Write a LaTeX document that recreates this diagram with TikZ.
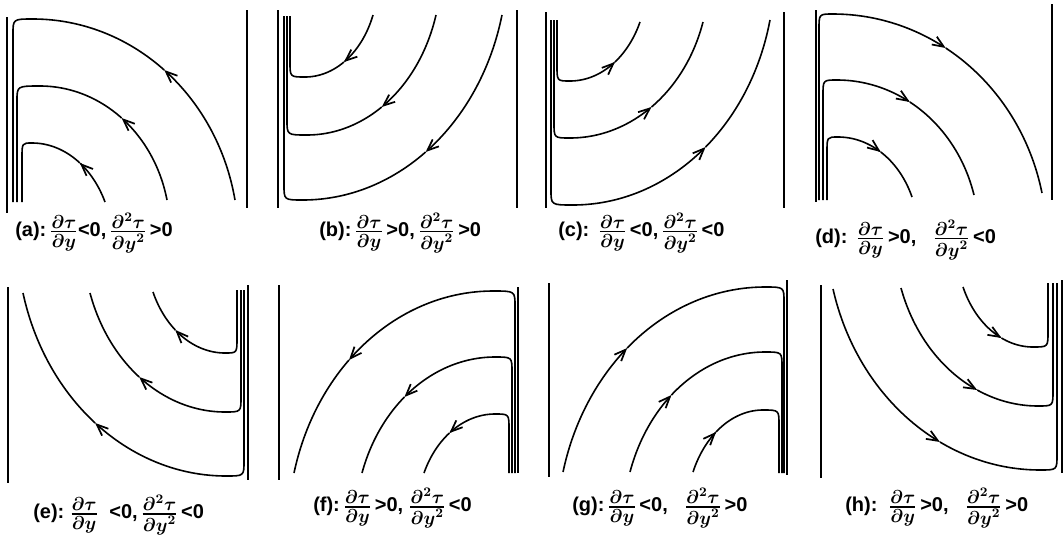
\RequirePackage{fix-cm}
\documentclass[tikz,border=0pt]{standalone}
\usepackage{amsmath}
\usepackage{fontspec}
\setmainfont{Liberation Sans}
\usetikzlibrary{arrows.meta}
\tikzset{
  wall/.style={line width=1.3pt},
  flow/.style={line width=1.2pt, line join=round},
  tipped/.style={flow, -{Straight Barb[length=8.5pt,width=7pt,line width=1.3pt]}},
  lab/.style={anchor=west, inner sep=0pt, font=\fontsize{15}{17}\selectfont\bfseries\boldmath}
}
\newcommand\fr[2]{\genfrac{}{}{1.3pt}{1}{\hbox{\fontsize{14}{14}\selectfont\boldmath$#1$}}{\hbox{\fontsize{14}{14}\selectfont\boldmath$#2$}}}
% \flowcurve(peak x,peak y)(free x,free y){centre y}{arrow y}{vertical x}{vertical end y}{1: arrow to peak, 0: arrow to free end}
\def\flowcurve(#1,#2)(#3,#4)#5#6#7#8#9{%
  \pgfmathsetmacro\fcRY{abs((#2)-(#5))}%
  \pgfmathsetmacro\fcSY{((#2)>(#5))?1:-1}%
  \pgfmathsetmacro\fcSX{((#3)>(#1))?1:-1}%
  \pgfmathsetmacro\fcTF{asin(abs((#4)-(#5))/\fcRY)}%
  \pgfmathsetmacro\fcRX{abs((#3)-(#1))/cos(\fcTF)}%
  \pgfmathsetmacro\fcTA{asin(min(1,abs((#6)-(#5))/\fcRY))}%
  \pgfmathsetmacro\fcK{(#2)-(\fcSY)*15}%
  \ifnum#9=1
    \draw[tipped] plot[domain=\fcTF:\fcTA, samples=40, variable=\t] ({(#1)+(\fcSX)*\fcRX*cos(\t)},{(#5)+(\fcSY)*\fcRY*sin(\t)});
    \draw[flow] plot[domain=\fcTA:90, samples=40, variable=\t] ({(#1)+(\fcSX)*\fcRX*cos(\t)},{(#5)+(\fcSY)*\fcRY*sin(\t)})
       .. controls (#7,#2) .. (#7,\fcK) -- (#7,#8);
  \else
    \draw[tipped] (#7,#8) -- (#7,\fcK) .. controls (#7,#2) .. (#1,#2)
       -- plot[domain=90:\fcTA, samples=40, variable=\t] ({(#1)+(\fcSX)*\fcRX*cos(\t)},{(#5)+(\fcSY)*\fcRY*sin(\t)});
    \draw[flow] plot[domain=\fcTA:\fcTF, samples=40, variable=\t] ({(#1)+(\fcSX)*\fcRX*cos(\t)},{(#5)+(\fcSY)*\fcRY*sin(\t)});
  \fi
}
\begin{document}
\begin{tikzpicture}[x=0.75pt,y=-0.75pt]
\useasboundingbox (0,0) rectangle (1064,540);
% walls
\draw[wall] (7,17) -- (7,213);      \draw[wall] (247,10) -- (247,208);
\draw[wall] (278,10) -- (278,208);  \draw[wall] (517,10) -- (517,208);
\draw[wall] (546,12) -- (546,208);  \draw[wall] (784,12) -- (784,208);
\draw[wall] (816,10) -- (816,202);  \draw[wall] (1052,4) -- (1052,200);
\draw[wall] (8,287) -- (8,483);     \draw[wall] (248,285) -- (248,480);
\draw[wall] (279,285) -- (279,480); \draw[wall] (518,287) -- (518,473);
\draw[wall] (549,283) -- (549,477); \draw[wall] (787,280) -- (787,475);
\draw[wall] (821,285) -- (821,478); \draw[wall] (1062,280) -- (1062,473);
% (a)
\flowcurve(33,19)(235,200){240}{70}{13}{202}{1}
\flowcurve(40,86)(167,200){230}{118}{17}{202}{1}
\flowcurve(32,143)(105,202){245}{163}{22}{202}{1}
% (b)
\flowcurve(303,200)(502,15){-40}{152}{284}{16}{1}
\flowcurve(307,135)(436,15){-30}{107}{287}{16}{1}
\flowcurve(305,77)(373,15){-20}{62}{290}{16}{1}
% (c)
\flowcurve(573,205)(770,20){-30}{147}{551}{20}{0}
\flowcurve(570,138)(703,22){-25}{107}{554}{20}{0}
\flowcurve(570,81)(640,22){-20}{62}{557}{20}{0}
% (d)
\flowcurve(833,14)(1042,193){240}{48}{819}{200}{0}
\flowcurve(837,80)(974,195){235}{102}{823}{200}{0}
\flowcurve(838,137)(912,197){235}{152}{827}{200}{0}
% (e)
\flowcurve(226,476)(23,293){235}{423}{244}{290}{0}
\flowcurve(225,412)(90,293){240}{377}{241}{290}{0}
\flowcurve(225,353)(153,292){250}{330}{237}{290}{0}
% (f)
\flowcurve(493,291)(294,473){530}{360}{515}{473}{0}
\flowcurve(495,357)(362,473){525}{397}{512}{473}{0}
\flowcurve(495,414)(424,473){515}{433}{509}{473}{0}
% (g)
\flowcurve(765,287)(563,472){530}{348}{784}{473}{1}
\flowcurve(765,352)(630,472){525}{395}{782}{473}{1}
\flowcurve(763,410)(693,472){515}{432}{779}{473}{1}
% (h)
\flowcurve(1040,470)(833,289){230}{442}{1057}{283}{1}
\flowcurve(1038,406)(901,288){235}{390}{1053}{283}{1}
\flowcurve(1033,347)(963,287){245}{338}{1048}{283}{1}
% labels
\node[lab] (la) at (15,233) {(a):\,$\fr{\partial\tau}{\partial y}$<0,\,$\fr{\partial^2\tau}{\partial y^2}$\,>0};
\node[lab] (lb) at (319,233) {(b):\,$\fr{\partial\tau}{\partial y}$\,>0,\,$\fr{\partial^2\tau}{\partial y^2}$\,>0};
\node[lab] (lc) at (558,233) {(c):\;\,$\fr{\partial\tau}{\partial y}$\,<0,\,$\fr{\partial^2\tau}{\partial y^2}$\,<0};
\node[lab] (ld) at (815,240) {(d):\;\,$\fr{\partial\tau}{\partial y}$\,>0,\;\;\;$\fr{\partial^2\tau}{\partial y^2}$\,<0};
\node[lab] (le) at (33,515) {(e):\;$\fr{\partial\tau}{\partial y}$\;\;<0,\,$\fr{\partial^2\tau}{\partial y^2}$\,<0};
\node[lab] (lf) at (313,508) {(f):\,$\fr{\partial\tau}{\partial y}$\,>0,\;$\fr{\partial^2\tau}{\partial y^2}$\,<0};
\node[lab] (lg) at (572,508) {(g):\,$\fr{\partial\tau}{\partial y}$\,<0,\;\;\;$\fr{\partial^2\tau}{\partial y^2}$\,>0};
\node[lab] (lh) at (845,508) {(h):\;\;$\fr{\partial\tau}{\partial y}$\,>0,\;\;\;$\fr{\partial^2\tau}{\partial y^2}$\,>0};
\end{tikzpicture}
\end{document}
